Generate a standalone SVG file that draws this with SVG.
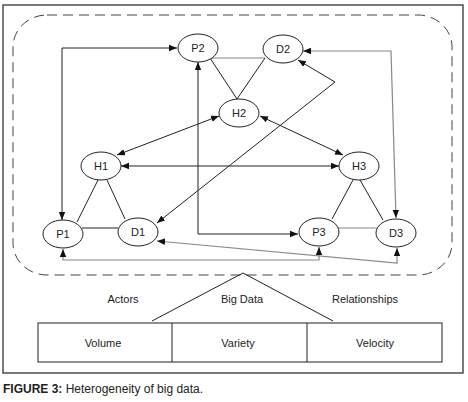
<svg xmlns="http://www.w3.org/2000/svg" width="468" height="402" viewBox="0 0 468 402">
<defs>
<marker id="ah" markerUnits="userSpaceOnUse" markerWidth="8" markerHeight="8" viewBox="0 0 8 8" refX="8" refY="4" orient="auto-start-reverse"><path d="M0,0.8 L8,4 L0,7.2 z" fill="#111"/></marker>
</defs>
<style>
.n{fill:#fff;stroke:#222;stroke-width:1}
.t{font-family:"Liberation Sans",Arial,sans-serif;font-size:11px;fill:#222;text-anchor:middle}
.c{fill:none;stroke:#222;stroke-width:1}
.g{fill:none;stroke:#888;stroke-width:1.2}
.a{marker-start:url(#ah);marker-end:url(#ah)}
</style>
<rect width="468" height="402" fill="#fff"/>
<rect x="3" y="5" width="460" height="368" fill="none" stroke="#222" stroke-width="1.2"/>
<rect x="13" y="15" width="439" height="260" rx="34" ry="32" fill="none" stroke="#444" stroke-width="1" stroke-dasharray="10,6"/>
<g id="connectors">
<line class="g" x1="210" y1="58" x2="265" y2="58"/>
<line class="c" x1="210" y1="58" x2="237" y2="99"/>
<line class="c" x1="265" y1="58" x2="237" y2="99"/>
<polyline class="c a" points="62,220 62,48 177,48"/>
<polyline class="c a" points="198,62 198,234 298,234"/>
<polyline class="g a" points="303,51 391,51 396,218"/>
<polyline class="c a" points="298,60 335,82 157,223"/>
<line class="c a" x1="219" y1="116" x2="117" y2="155"/>
<line class="c a" x1="260" y1="116" x2="343" y2="155"/>
<line class="c a" x1="121" y1="166" x2="339" y2="166"/>
<line class="c" x1="98" y1="180" x2="77" y2="222"/>
<line class="c" x1="107" y1="180" x2="125" y2="219"/>
<line class="c" x1="82" y1="228" x2="118" y2="228"/>
<line class="c" x1="353" y1="180" x2="332" y2="219"/>
<line class="c" x1="360" y1="180" x2="383" y2="220"/>
<line class="g" x1="338" y1="228" x2="377" y2="228"/>
<polyline class="g a" points="63,249 63,260 319,260 319,247"/>
<polyline class="g a" points="157,241 397,263 397,248"/>
</g>
<g id="P2"><ellipse class="n" cx="198" cy="48" rx="20" ry="14"/><text class="t" x="198" y="52">P2</text></g>
<g id="D2"><ellipse class="n" cx="283" cy="49" rx="20" ry="14"/><text class="t" x="283" y="53">D2</text></g>
<g id="H2"><ellipse class="n" cx="239" cy="113" rx="20" ry="14"/><text class="t" x="239" y="117">H2</text></g>
<g id="H1"><ellipse class="n" cx="101" cy="166" rx="20" ry="14"/><text class="t" x="101" y="170">H1</text></g>
<g id="H3"><ellipse class="n" cx="359" cy="166" rx="20" ry="14"/><text class="t" x="359" y="170">H3</text></g>
<g id="P1"><ellipse class="n" cx="63" cy="234" rx="20" ry="14"/><text class="t" x="63" y="238">P1</text></g>
<g id="D1"><ellipse class="n" cx="138" cy="232" rx="20" ry="14"/><text class="t" x="138" y="236">D1</text></g>
<g id="P3"><ellipse class="n" cx="319" cy="232" rx="20" ry="14"/><text class="t" x="319" y="236">P3</text></g>
<g id="D3"><ellipse class="n" cx="396" cy="233" rx="20" ry="14"/><text class="t" x="396" y="237">D3</text></g>
<g id="bigdata">
<polyline class="c" points="152,321 243,273 333,321"/>
<text class="t" x="123" y="303">Actors</text>
<text class="t" x="242" y="303">Big Data</text>
<text class="t" x="365" y="303">Relationships</text>
</g>
<g id="vvv">
<rect x="38" y="323" width="404" height="39" fill="none" stroke="#222" stroke-width="1"/>
<line class="c" x1="172" y1="323" x2="172" y2="362"/>
<line class="c" x1="307" y1="323" x2="307" y2="362"/>
<text class="t" x="103" y="347">Volume</text>
<text class="t" x="238" y="347">Variety</text>
<text class="t" x="375" y="347">Velocity</text>
</g>
<text x="3" y="393" font-family="'Liberation Sans',Arial,sans-serif" font-size="12" fill="#222"><tspan font-weight="bold">FIGURE 3:</tspan> Heterogeneity of big data.</text>
</svg>
